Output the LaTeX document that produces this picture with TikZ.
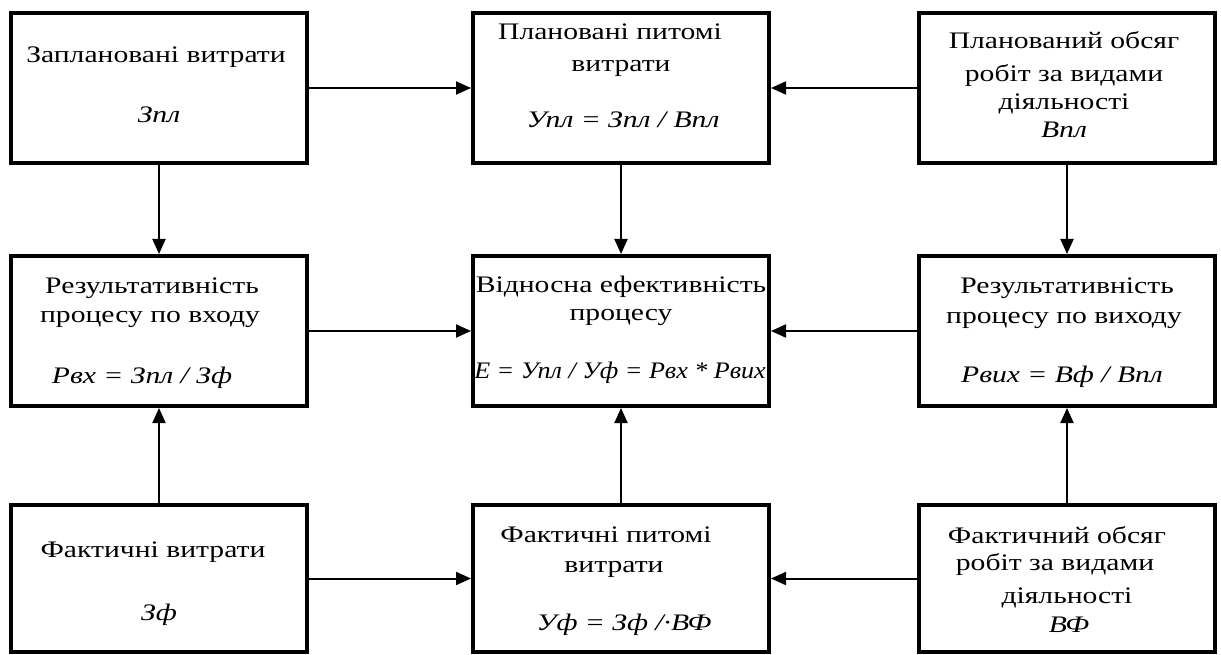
\documentclass[tikz,border=0pt]{standalone}
\usepackage{fontspec}
\setmainfont{Liberation Serif}[FakeStretch=1.25]
\usetikzlibrary{arrows.meta}
\begin{document}
\begin{tikzpicture}[x=1pt,y=-1pt,
  box/.style={draw=black,line width=4pt,rectangle,minimum width=296pt,minimum height=150pt,inner sep=0pt},
  txt/.style={anchor=base,inner sep=0pt,font=\fontsize{23.7}{28}\selectfont},
  frm/.style={txt,font=\fontsize{23.7}{28}\selectfont\itshape},
  link/.style={line width=2pt,-{Triangle[length=15pt,width=13pt]}}]
\useasboundingbox (0,0) rectangle (1221,655);
% boxes: three rows, three columns
\node[box] (pz) at (159,88) {};
\node[box] (pu) at (621,88) {};
\node[box] (pv) at (1067,88) {};
\node[box] (rin) at (159,331) {};
\node[box] (eff) at (621,331) {};
\node[box] (rout) at (1067,331) {};
\node[box,minimum height=147pt] (fz) at (159,578.5) {};
\node[box,minimum height=147pt] (fu) at (621,578.5) {};
\node[box,minimum height=147pt] (fv) at (1067,578.5) {};
% texts of the top row
\node[txt] (pz1) at (156,63) {Заплановані витрати};
\node[frm] (pz2) at (159,123) {Зпл};
\node[txt] (pu1) at (610,40) {Плановані питомі};
\node[txt] (pu2) at (621,72) {витрати};
\node[frm] (pu3) at (623,128) {Упл = Зпл / Впл};
\node[txt] (pv1) at (1064,49) {Планований обсяг};
\node[txt] (pv2) at (1064,82) {робіт за видами};
\node[txt] (pv3) at (1064,110) {діяльності};
\node[frm] (pv4) at (1064,138) {Впл};
% texts of the middle row
\node[txt] (rin1) at (152,294) {Результативність};
\node[txt] (rin2) at (150,322) {процесу по входу};
\node[frm] (rin3) at (142,383) {Рвх = Зпл / Зф};
\node[txt] (eff1) at (621,292) {Відносна ефективність};
\node[txt] (eff2) at (621,320) {процесу};
\node[frm] (eff3) at (620,378) {\scalebox{0.88}[1]{E = Упл / Уф = Рвх * Рвих}};
\node[txt] (rout1) at (1067,293) {Результативність};
\node[txt] (rout2) at (1064,323) {процесу по виходу};
\node[frm] (rout3) at (1062,382) {Рвих = Вф / Впл};
% texts of the bottom row
\node[txt] (fz1) at (153,557) {Фактичні витрати};
\node[frm] (fz2) at (159,620) {Зф};
\node[txt] (fu1) at (606,542) {Фактичні питомі};
\node[txt] (fu2) at (614,572) {витрати};
\node[frm] (fu3) at (624,630) {Уф = Зф /·ВФ};
\node[txt] (fv1) at (1057,543) {Фактичний обсяг};
\node[txt] (fv2) at (1055,570) {робіт за видами};
\node[txt] (fv3) at (1067,603) {діяльності};
\node[frm] (fv4) at (1069,632) {ВФ};
% connectors
\draw[link] (pz) -- (pu);
\draw[link] (pv) -- (pu);
\draw[link] (pz) -- (rin);
\draw[link] (pu) -- (eff);
\draw[link] (pv) -- (rout);
\draw[link] (rin) -- (eff);
\draw[link] (rout) -- (eff);
\draw[link] (fz) -- (rin);
\draw[link] (fu) -- (eff);
\draw[link] (fv) -- (rout);
\draw[link] (fz) -- (fu);
\draw[link] (fv) -- (fu);
\end{tikzpicture}
\end{document}
